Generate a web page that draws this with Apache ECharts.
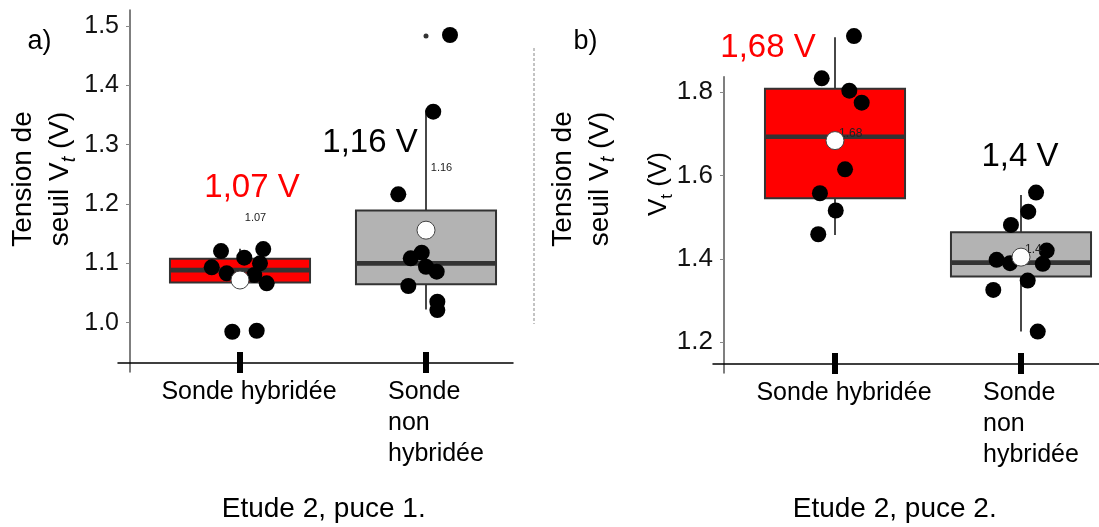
<!DOCTYPE html>
<html><head><meta charset="utf-8">
<script src="https://cdn.jsdelivr.net/npm/echarts@6/dist/echarts.min.js"></script>
<style>html,body{margin:0;padding:0;background:#fff}#c{width:1099px;height:527px}</style>
</head><body><div id="c"></div>
<script>
// ---------- data ----------
const categories = ['Sonde hybridée', 'Sonde\nnon\nhybridée'];
const catX = [1, 2];
const yTicksA = [1.0, 1.1, 1.2, 1.3, 1.4, 1.5];
const yTicksB = [1.2, 1.4, 1.6, 1.8];
// box statistics: [x, min, Q1, median, Q3, max]
const boxA = [[1, 1.065, 1.068, 1.0887, 1.1078, 1.1247], [2, 1.0225, 1.065, 1.100, 1.189, 1.358]];
const boxB = [[1, 1.4574, 1.5455, 1.6934, 1.8087, 1.932], [2, 1.2252, 1.3573, 1.3909, 1.4639, 1.5534]];
const meanA = [1.072, 1.156];
const meanB = [1.684, 1.404];
const outliersA = [[2, 1.483]];
const outliersB = [];
// jittered individual measurements [x, Vt]
const pointsA = [
  [0.898, 1.1208], [1.023, 1.1096], [1.125, 1.1242], [1.1075, 1.1001], [0.848, 1.0934],
  [0.9285, 1.0833], [1.0769, 1.0804], [1.1435, 1.0664], [0.9586, 0.9848], [1.0898, 0.9865],
  [2.129, 1.4849], [2.039, 1.3556], [1.851, 1.2164], [1.918, 1.1085], [1.977, 1.118],
  [2.000, 1.0944], [2.0575, 1.086], [1.905, 1.0619], [2.061, 1.0354], [2.061, 1.0214]
];
const pointsB = [
  [1.102, 1.935], [0.9285, 1.8336], [1.077, 1.804], [1.1435, 1.775], [1.054, 1.615],
  [0.919, 1.5575], [1.004, 1.516], [0.910, 1.459],
  [2.081, 1.559], [2.039, 1.5133], [1.946, 1.4814], [2.138, 1.4197], [1.869, 1.3974],
  [1.941, 1.3894], [2.117, 1.3878], [2.036, 1.3477], [1.851, 1.3253], [2.090, 1.2252]
];

// ---------- styles ----------
const FONT = '"Liberation Sans", Arial, Helvetica, sans-serif';
const boxFill = ['#ff0000', '#b3b3b3'];
const bigColor = ['#ff0000', '#000000'];
const BOX_W = 0.753; // box width in x units

const fmtSmall = v => String(Math.round(v * 100) / 100);
const fmtBig = v => fmtSmall(v).replace('.', ',') + ' V';

function renderBox(params, api) {
  const x = api.value(0);
  const lo = api.coord([x, api.value(1)]);
  const q1 = api.coord([x, api.value(2)]);
  const md = api.coord([x, api.value(3)]);
  const q3 = api.coord([x, api.value(4)]);
  const hi = api.coord([x, api.value(5)]);
  const w = api.size([BOX_W, 0])[0];
  const ln = { stroke: '#333', lineWidth: 1.8 };
  return {
    type: 'group', children: [
      { type: 'line', shape: { x1: hi[0], y1: hi[1], x2: q3[0], y2: q3[1] }, style: ln },
      { type: 'line', shape: { x1: q1[0], y1: q1[1], x2: lo[0], y2: lo[1] }, style: ln },
      { type: 'rect', shape: { x: q3[0] - w / 2, y: q3[1], width: w, height: q1[1] - q3[1] },
        style: { fill: boxFill[params.dataIndex], stroke: '#333', lineWidth: 2 } },
      { type: 'line', shape: { x1: md[0] - w / 2 + 1, y1: md[1], x2: md[0] + w / 2 - 1, y2: md[1] },
        style: { stroke: '#333', lineWidth: 4.6 } }
    ]
  };
}

function xLabelFmt(v) {
  const i = catX.indexOf(v);
  if (i === 0) return '{a|' + categories[0] + '}';
  return categories[1].split('\n').map(s => '{b|' + s + '}').join('\n');
}

function panel(gi, cfg) {
  const xCommon = { gridIndex: gi, type: 'value', min: cfg.xMin, max: cfg.xMax, position: 'bottom', offset: -9, splitLine: { show: false } };
  const xAxes = [
    Object.assign({}, xCommon, {
      axisLine: { show: true, lineStyle: { color: '#000', width: 1.5 } },
      axisTick: { show: true, customValues: catX, length: 10, lineStyle: { color: '#000', width: 6 } },
      axisLabel: {
        show: true, customValues: catX, margin: 14, formatter: xLabelFmt,
        rich: {
          a: { fontSize: 25, lineHeight: 31, fontFamily: FONT, color: '#000', padding: [0, 0, 0, 18] },
          b: { fontSize: 25, lineHeight: 31, fontFamily: FONT, color: '#000', width: 98, align: 'left', padding: [0, 0, 0, 22] }
        }
      }
    }),
    Object.assign({}, xCommon, {
      axisLine: { show: false },
      axisTick: { show: true, inside: true, customValues: catX, length: 11, lineStyle: { color: '#000', width: 6 } },
      axisLabel: { show: false }
    })
  ];
  const yAxis = {
    gridIndex: gi, type: 'value', min: cfg.yMin, max: cfg.yMax, position: 'left', offset: cfg.yOffset,
    splitLine: { show: false },
    axisLine: { show: true, lineStyle: { color: '#555', width: 1.5 } },
    axisTick: { show: true, customValues: cfg.yTicks, length: 4, lineStyle: { color: '#888', width: 1 } },
    axisLabel: { show: true, customValues: cfg.yTicks, margin: 11, fontSize: cfg.yFont, fontFamily: FONT, color: '#111',
      formatter: v => v.toFixed(1) }
  };
  const xi = gi * 2;
  const meanData = cfg.means.map((m, i) => [catX[i], m]);
  const series = [
    { type: 'custom', xAxisIndex: xi, yAxisIndex: gi, renderItem: renderBox, data: cfg.box, clip: false, z: 2,
      encode: { x: 0, y: [1, 2, 3, 4, 5] } },
    { type: 'scatter', xAxisIndex: xi, yAxisIndex: gi, data: cfg.points, symbolSize: 16, clip: false, z: 3,
      itemStyle: { color: '#000', opacity: 1 } },
    { type: 'scatter', xAxisIndex: xi, yAxisIndex: gi, data: cfg.outliers, symbolSize: 5, clip: false, z: 3,
      itemStyle: { color: '#333', opacity: 1 } },
    { type: 'scatter', xAxisIndex: xi, yAxisIndex: gi, data: meanData, symbolSize: 1, clip: false, z: 4,
      itemStyle: { color: 'rgba(0,0,0,0)', opacity: 1 },
      label: { show: true, position: 'inside', align: cfg.smallAlign, verticalAlign: 'middle', offset: cfg.smallOffset,
        fontSize: cfg.smallFont, fontFamily: FONT, color: '#222', opacity: 1, formatter: p => fmtSmall(p.value[1]) } },
    { type: 'scatter', xAxisIndex: xi, yAxisIndex: gi, data: meanData, symbolSize: 18, clip: false, z: 5,
      itemStyle: { color: '#fff', borderColor: '#444', borderWidth: 1, opacity: 1 } },
    { type: 'scatter', xAxisIndex: xi, yAxisIndex: gi, clip: false, z: 6, symbolSize: 1,
      itemStyle: { color: 'rgba(0,0,0,0)', opacity: 1 },
      data: meanData.map((d, i) => ({ value: d, label: { color: bigColor[i], offset: cfg.bigOffset[i] } })),
      label: { show: true, position: 'inside', align: 'center', verticalAlign: 'middle', fontSize: 33, fontFamily: FONT,
        opacity: 1, formatter: p => fmtBig(p.value[1]) } }
  ];
  return { xAxes, yAxis, series };
}

const pA = panel(0, {
  xMin: 0.34409, xMax: 2.46774, yMin: 0.917, yMax: 1.527, yOffset: -12, yTicks: yTicksA, yFont: 25,
  box: boxA, means: meanA, points: pointsA, outliers: outliersA,
  smallAlign: 'center', smallOffset: [15.5, -62], smallFont: 11,
  bigOffset: [[12, -92], [-56, -87]]
});
const pB = panel(1, {
  xMin: 0.34409, xMax: 2.41935, yMin: 1.1256, yMax: 1.8375, yOffset: -11, yTicks: yTicksB, yFont: 26,
  box: boxB, means: meanB, points: pointsB, outliers: outliersB,
  smallAlign: 'left', smallOffset: [4, -7], smallFont: 12,
  bigOffset: [[-67, -93], [-1, -100]]
});

const yTitleRich = {
  n: { fontSize: 28, lineHeight: 37, fontFamily: FONT, fill: '#000' },
  s: { fontSize: 20, lineHeight: 22, fontFamily: FONT, fontStyle: 'italic', fill: '#000', verticalAlign: 'bottom' }
};
const yTitleRichB2 = {
  n: { fontSize: 26, lineHeight: 34, fontFamily: FONT, fill: '#000' },
  s: { fontSize: 17, lineHeight: 19, fontFamily: FONT, fill: '#000', verticalAlign: 'bottom' }
};
function textEl(x, y, text, size, color, extra) {
  return Object.assign({ type: 'text', x: x, y: y, silent: true,
    style: { text: text, fontSize: size, fontFamily: FONT, fill: color, align: 'center', verticalAlign: 'middle' } }, extra || {});
}

const option = {
  animation: false,
  backgroundColor: '#fff',
  grid: [
    { left: 118, top: 10, width: 395, height: 362, containLabel: false, outerBoundsMode: 'none' },
    { left: 713, top: 76.7, width: 386, height: 296.3, containLabel: false, outerBoundsMode: 'none' }
  ],
  xAxis: pA.xAxes.concat(pB.xAxes),
  yAxis: [pA.yAxis, pB.yAxis],
  series: pA.series.concat(pB.series),
  graphic: [
    textEl(39.5, 42, 'a)', 27, '#000'),
    textEl(585.5, 41.5, 'b)', 27, '#000'),
    { type: 'line', silent: true, shape: { x1: 534, y1: 48, x2: 534, y2: 324 },
      style: { stroke: '#888', lineWidth: 1, lineDash: [3, 2] } },
    { type: 'text', x: 42, y: 179, rotation: Math.PI / 2, silent: true,
      style: { text: '{n|Tension de}\n{n|seuil V}{s|t}{n| (V)}', rich: yTitleRich, align: 'center', verticalAlign: 'middle' } },
    { type: 'text', x: 581.5, y: 179, rotation: Math.PI / 2, silent: true,
      style: { text: '{n|Tension de}\n{n|seuil V}{s|t}{n| (V)}', rich: yTitleRich, align: 'center', verticalAlign: 'middle' } },
    { type: 'text', x: 659, y: 184, rotation: Math.PI / 2, silent: true,
      style: { text: '{n|V}{s|t}{n| (V)}', rich: yTitleRichB2, align: 'center', verticalAlign: 'middle' } },
    textEl(323.7, 509, 'Etude 2, puce 1.', 28, '#000'),
    textEl(894.7, 509, 'Etude 2, puce 2.', 28, '#000')
  ]
};

const chart = echarts.init(document.getElementById('c'), null, { renderer: 'canvas' });
chart.setOption(option);
</script>
</body></html>
